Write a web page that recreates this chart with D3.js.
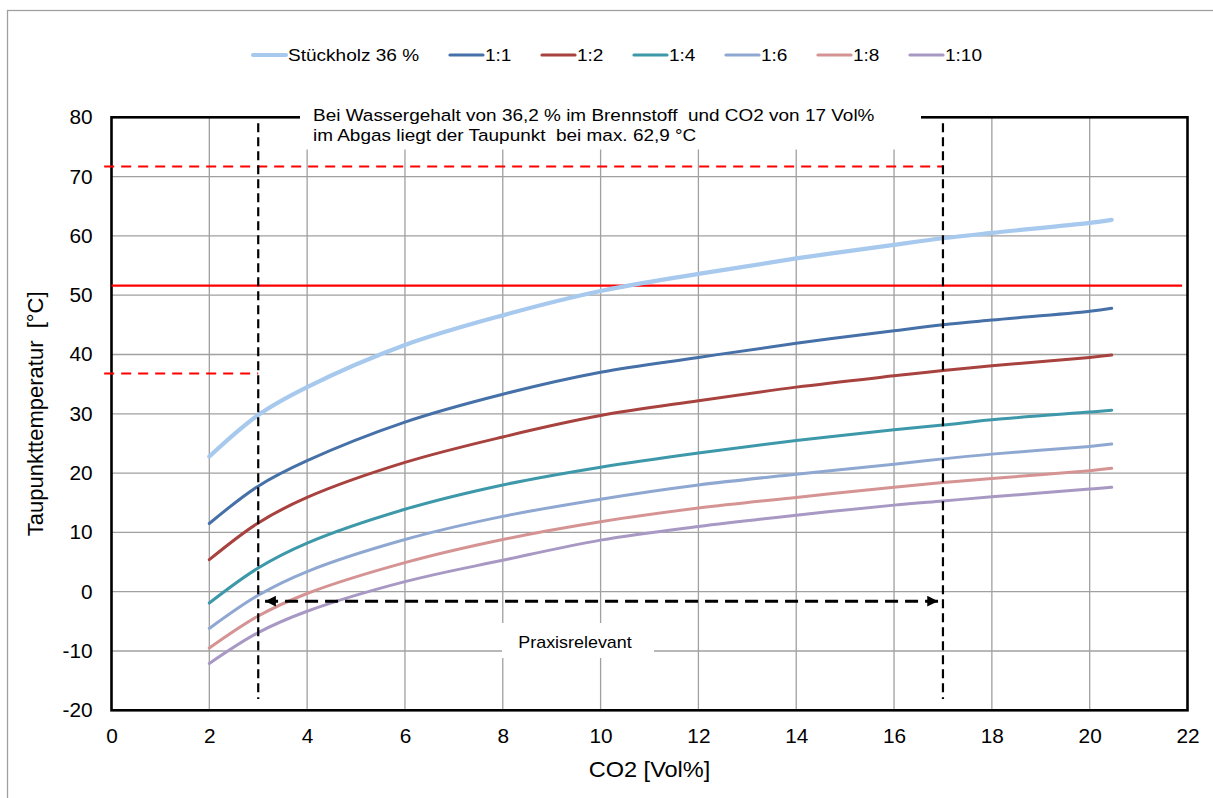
<!DOCTYPE html>
<html><head><meta charset="utf-8">
<script src="https://cdn.jsdelivr.net/npm/d3@7"></script>
<style>
html,body{margin:0;padding:0;background:#fff;}
text{font-family:"Liberation Sans",Arial,sans-serif;fill:#000;white-space:pre;}
</style></head>
<body><svg id="c" width="1213" height="798"></svg>
<script>
// ---- data ----
const co2 = [2, 3, 4, 6, 8, 10, 12, 14, 16, 17, 18, 20, 20.45];
const seriesNames = ["Stückholz 36 %", "1:1", "1:2", "1:4", "1:6", "1:8", "1:10"];
const stueckholz = [22.8, 29.8, 34.5, 41.6, 46.6, 50.7, 53.6, 56.2, 58.5, 59.6, 60.5, 62.2, 62.7];
const r1_1  = [11.5, 17.8, 22.1, 28.6, 33.3, 37.0, 39.5, 41.9, 44.0, 45.0, 45.8, 47.3, 47.8];
const r1_2  = [5.4, 11.6, 15.9, 21.8, 26.1, 29.7, 32.2, 34.5, 36.4, 37.3, 38.1, 39.5, 39.9];
const r1_4  = [-1.9, 4.0, 8.2, 13.9, 18.0, 21.0, 23.4, 25.5, 27.3, 28.1, 29.0, 30.3, 30.6];
const r1_6  = [-6.2, -0.6, 3.4, 8.8, 12.7, 15.6, 18.0, 19.8, 21.5, 22.4, 23.2, 24.5, 24.9];
const r1_8  = [-9.5, -4.1, -0.3, 4.9, 8.8, 11.8, 14.1, 15.9, 17.6, 18.4, 19.1, 20.4, 20.8];
const r1_10 = [-12.1, -6.9, -3.3, 1.7, 5.3, 8.7, 11.0, 12.9, 14.6, 15.3, 16.0, 17.3, 17.6];
const seriesValues = [stueckholz, r1_1, r1_2, r1_4, r1_6, r1_8, r1_10];
const seriesColors = ["#a7c9ee", "#4670a8", "#a8423f", "#3d98aa", "#8fa8d2", "#d59493", "#a898c4"];
const xTicks = [0, 2, 4, 6, 8, 10, 12, 14, 16, 18, 20, 22];
const yTicks = [-20, -10, 0, 10, 20, 30, 40, 50, 60, 70, 80];
// reference lines (data units)
const redSolidY = 51.6;
const redDashHigh = 71.7;
const redDashLow = 36.8;
const co2Low = 3, co2High = 17;
const arrowY = -1.6;
const annotationLines = ["Bei Wassergehalt von 36,2 % im Brennstoff  und CO2 von 17 Vol%",
                         "im Abgas liegt der Taupunkt  bei max. 62,9 °C"];
const praxisLabel = "Praxisrelevant";

// ---- layout ----
const SX = 1.12; // horizontal text stretch
const svg = d3.select("#c");
const x = d3.scaleLinear().domain([0, 22]).range([111.5, 1187.5]);
const y = d3.scaleLinear().domain([-20, 80]).range([710.3, 117.3]);
const x0 = x(0), x1 = x(22), y0 = y(-20), y1 = y(80);

function stext(g, tx, ty, str, size, anchor, sx) {
  return g.append("text").attr("transform", `translate(${tx},${ty}) scale(${sx || SX},1)`)
    .attr("font-size", size).attr("text-anchor", anchor || "start").text(str);
}

// outer border
svg.append("rect").attr("x", 7.5).attr("y", 10.5).attr("width", 1230).attr("height", 820)
  .attr("fill", "none").attr("stroke", "#a0a0a0").attr("stroke-width", 1.3);

// gridlines
const grid = svg.append("g");
grid.selectAll(".gx").data(xTicks.filter(d => d > 0 && d < 22)).join("line")
  .attr("x1", d => x(d)).attr("x2", d => x(d)).attr("y1", y1).attr("y2", y0)
  .attr("stroke", "#a0a0a0").attr("stroke-width", 1.3);
grid.selectAll(".gy").data(yTicks.filter(d => d > -20 && d < 80)).join("line")
  .attr("x1", x0).attr("x2", x1).attr("y1", d => y(d)).attr("y2", d => y(d))
  .attr("stroke", "#a0a0a0").attr("stroke-width", 1.3);

// plot frame
svg.append("rect").attr("x", x0).attr("y", y1).attr("width", x1 - x0).attr("height", y0 - y1)
  .attr("fill", "none").attr("stroke", "#000").attr("stroke-width", 2.6);

// annotation box (white) covering top part
svg.append("rect").attr("x", 300).attr("y", 100).attr("width", 621).attr("height", 49.5).attr("fill", "#fff");
annotationLines.forEach((t, i) => stext(svg, 313, 121 + i * 20, t, 17, "start", 1.115));

// axes tick labels
const fmt = d => String(d);
const xAxis = d3.axisBottom(x).tickValues(xTicks).tickFormat(fmt).tickSize(0).tickPadding(19);
const gx = svg.append("g").attr("transform", `translate(0,${y0})`).call(xAxis);
gx.select(".domain").remove();
gx.selectAll("text").attr("font-size", 20).attr("font-family", "Liberation Sans, Arial, sans-serif")
  .attr("fill", "#000").attr("transform", "scale(1.04,1)");
const yAxis = d3.axisLeft(y).tickValues(yTicks).tickFormat(fmt).tickSize(0).tickPadding(19 / 1.04);
const gy = svg.append("g").attr("transform", `translate(${x0},0)`).call(yAxis);
gy.select(".domain").remove();
gy.selectAll("text").attr("font-size", 20).attr("font-family", "Liberation Sans, Arial, sans-serif")
  .attr("fill", "#000").attr("transform", "scale(1.04,1)");

// axis titles
stext(svg, (x0 + x1) / 2, 777, "CO2 [Vol%]", 22, "middle", 1.07);
svg.append("text").attr("transform", `translate(43,${(y0 + y1) / 2}) rotate(-90)`)
  .attr("text-anchor", "middle").attr("font-size", 22).text("Taupunkttemperatur  [°C]");

// red lines
svg.append("line").attr("x1", x0).attr("x2", x(21.89)).attr("y1", y(redSolidY)).attr("y2", y(redSolidY))
  .attr("stroke", "#ff0000").attr("stroke-width", 2.2);
svg.append("line").attr("x1", x(-0.15)).attr("x2", x(co2High)).attr("y1", y(redDashHigh)).attr("y2", y(redDashHigh))
  .attr("stroke", "#ff0000").attr("stroke-width", 2).attr("stroke-dasharray", "10,7");
svg.append("line").attr("x1", x(-0.15)).attr("x2", x(co2Low)).attr("y1", y(redDashLow)).attr("y2", y(redDashLow))
  .attr("stroke", "#ff0000").attr("stroke-width", 2).attr("stroke-dasharray", "10,7");

// series
const line = d3.line().x((d, i) => x(co2[i])).y(d => y(d)).curve(d3.curveCatmullRom.alpha(0.5));
svg.append("g").selectAll("path").data(seriesValues).join("path")
  .attr("d", d => line(d)).attr("fill", "none")
  .attr("stroke", (d, i) => seriesColors[i])
  .attr("stroke-width", (d, i) => i === 0 ? 4.2 : 3)
  .attr("stroke-linecap", "round");

// vertical dashed lines
[co2Low, co2High].forEach(v => {
  svg.append("line").attr("x1", x(v)).attr("x2", x(v)).attr("y1", y(79.0)).attr("y2", y(-18.1))
    .attr("stroke", "#000").attr("stroke-width", 2.2).attr("stroke-dasharray", "9,5");
});

// double arrow
const defs = svg.append("defs");
defs.append("marker").attr("id", "ah").attr("viewBox", "0 0 10 10").attr("refX", 10).attr("refY", 5)
  .attr("markerWidth", 4.2).attr("markerHeight", 3.6).attr("markerUnits", "strokeWidth").attr("orient", "auto-start-reverse")
  .append("path").attr("d", "M0,0 L10,5 L0,10 z").attr("fill", "#000");
svg.append("line").attr("x1", x(3.14)).attr("x2", x(16.9)).attr("y1", y(arrowY)).attr("y2", y(arrowY))
  .attr("stroke", "#000").attr("stroke-width", 3).attr("stroke-dasharray", "13,7")
  .attr("marker-start", "url(#ah)").attr("marker-end", "url(#ah)");

// Praxisrelevant label box
svg.append("rect").attr("x", 502).attr("y", 623).attr("width", 152).attr("height", 35).attr("fill", "#fff");
stext(svg, 575, 648, praxisLabel, 16, "middle");

// legend
const legend = svg.append("g");
const legendX = [253, 450, 542, 634, 726, 818, 910];
seriesNames.forEach((n, i) => {
  legend.append("line").attr("x1", legendX[i]).attr("x2", legendX[i] + 33).attr("y1", 55).attr("y2", 55)
    .attr("stroke", seriesColors[i]).attr("stroke-width", i === 0 ? 4.2 : 3.2).attr("stroke-linecap", "round");
  stext(legend, legendX[i] + 35, 61, n, 17, "start");
});
</script></body></html>
